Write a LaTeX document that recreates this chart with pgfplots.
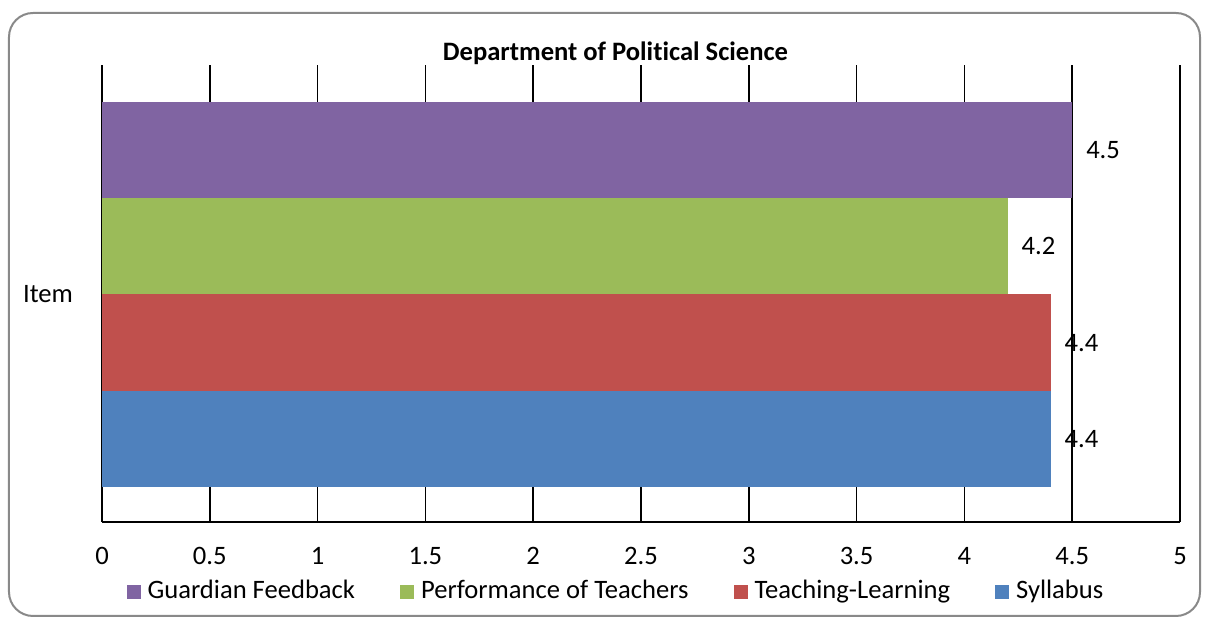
\documentclass[border=0pt]{standalone}
\usepackage{fontspec}
\setmainfont{Carlito}[Ligatures=NoCommon]
\usepackage{pgfplots}
\pgfplotsset{compat=1.18}
\definecolor{cPurple}{HTML}{8064A2}
\definecolor{cGreen}{HTML}{9BBB59}
\definecolor{cRed}{HTML}{C0504D}
\definecolor{cBlue}{HTML}{4F81BD}
\definecolor{cFrame}{HTML}{898989}
\begin{document}
\begin{tikzpicture}
\begin{axis}[
  at={(0pt,0pt)}, anchor=south west,
  scale only axis, width=539pt, height=228.5pt,
  xmin=0, xmax=5, ymin=-0.864, ymax=3.884,
  xtick={0,0.5,1,1.5,2,2.5,3,3.5,4,4.5,5},
  ytick={1.5}, yticklabels={Item},
  xmajorgrids, grid style={black, line width=0.75pt},
  axis x line=bottom, axis y line=left,
  axis line style={-, black, line width=0.75pt},
  major tick length=0pt,
  tick label style={font=\fontsize{13.3}{15}\selectfont},
  /pgf/number format/assume math mode=true,
  xticklabel style={yshift=-9pt},
  yticklabel style={xshift=-11pt},
  legend style={at={(0.4777,-0.151)}, anchor=center, draw=none,
    font=\fontsize{13.3}{15}\selectfont, legend columns=-1,
    /tikz/every even column/.append style={column sep=20.5pt}},
  legend image code/.code={\fill[#1] (0pt,-4pt) rectangle (7pt,3pt); \path (8.5pt,0pt);},
  reverse legend,
  every node near coord/.append style={anchor=west, xshift=3.5pt, font=\fontsize{13.3}{15}\selectfont, black},
]
\addplot[xbar, bar shift=0pt, bar width=1, fill=cBlue, draw=none, nodes near coords, point meta=x] coordinates {(4.4,0)};
\addlegendentry{Syllabus}
\addplot[xbar, bar shift=0pt, bar width=1, fill=cRed, draw=none, nodes near coords, point meta=x] coordinates {(4.4,1)};
\addlegendentry{Teaching-Learning}
\addplot[xbar, bar shift=0pt, bar width=1, fill=cGreen, draw=none, nodes near coords, point meta=x] coordinates {(4.2,2)};
\addlegendentry{Performance of Teachers}
\addplot[xbar, bar shift=0pt, bar width=1, fill=cPurple, draw=none, nodes near coords, point meta=x] coordinates {(4.5,3)};
\addlegendentry{Guardian Feedback}
\end{axis}
\node[font=\bfseries\fontsize{13.3}{15}\selectfont] at (256.75pt,234.5pt) {Department of Political Science};
\draw[cFrame, line width=1pt, rounded corners=12pt] (-46.5pt,-47pt) rectangle (549pt,254.5pt);
\pgfresetboundingbox
\useasboundingbox (-51pt,-49pt) rectangle (552.5pt,261pt);
\end{tikzpicture}
\end{document}
